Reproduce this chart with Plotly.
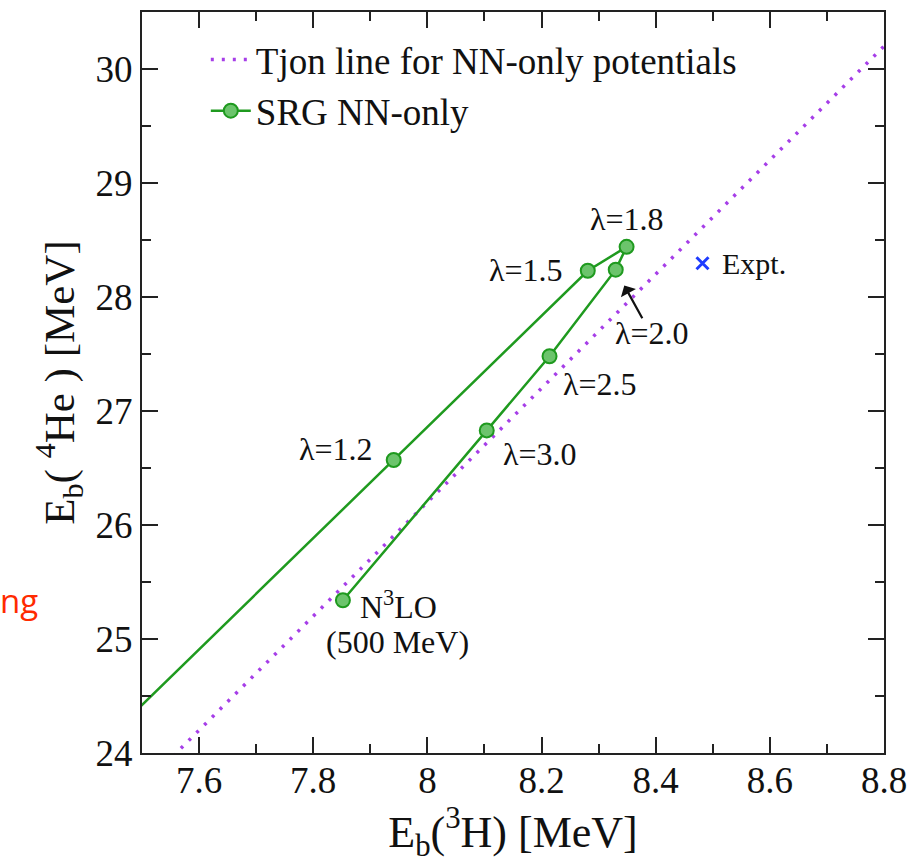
import plotly.graph_objects as go

# SRG-evolved NN-only binding energies (MeV), ordered along the evolution path
srg_labels = ["N<sup>3</sup>LO", "λ=3.0", "λ=2.5", "λ=2.0", "λ=1.8", "λ=1.5", "λ=1.2", "λ=1.0"]
srg_e3h = [7.852, 8.104, 8.214, 8.330, 8.349, 8.281, 7.941, 7.350]
srg_e4he = [25.34, 26.83, 27.48, 28.24, 28.44, 28.23, 26.57, 23.69]

# Tjon line for NN-only potentials
tjon_e3h = [7.50, 8.80]
tjon_e4he = [23.70, 30.20]

# Experimental values
expt_e3h = [8.482]
expt_e4he = [28.296]

serif = "Liberation Serif"
green = "#1f9a1f"
ink = "#111111"

fig = go.Figure()

fig.add_trace(go.Scatter(
    x=tjon_e3h, y=tjon_e4he, mode="lines",
    line=dict(color="#a63ee8", width=3.5, dash="3px,8px"),
    name="Tjon line for NN-only potentials",
))
fig.add_trace(go.Scatter(
    x=srg_e3h, y=srg_e4he, mode="lines+markers",
    line=dict(color=green, width=2.5),
    marker=dict(size=14, color="#6cc46c", line=dict(color=green, width=2)),
    name="SRG NN-only", cliponaxis=True,
))
fig.add_trace(go.Scatter(
    x=expt_e3h, y=expt_e4he, mode="markers",
    marker=dict(symbol="x-thin", size=12, line=dict(color="#1e3cff", width=3)),
    showlegend=False,
))

# point labels: (x, y, anchor)
label_pos = {
    "N<sup>3</sup>LO": (7.878, 25.30, "left"),
    "λ=3.0": (8.198, 26.62, "center"),
    "λ=2.5": (8.303, 27.24, "center"),
    "λ=2.0": (8.394, 27.68, "center"),
    "λ=1.8": (8.349, 28.68, "center"),
    "λ=1.5": (8.172, 28.24, "center"),
    "λ=1.2": (7.840, 26.67, "center"),
}
annotations = []
for lab, (lx, ly, anchor) in label_pos.items():
    annotations.append(dict(x=lx, y=ly, text=lab, showarrow=False, xanchor=anchor,
                            font=dict(family=serif, size=32, color=ink)))
annotations.append(dict(x=7.948, y=24.97, text="(500 MeV)", showarrow=False,
                        font=dict(family=serif, size=32, color=ink)))
annotations.append(dict(x=8.512, y=28.29, text="Expt.", showarrow=False, xanchor="left",
                        font=dict(family=serif, size=30, color=ink)))
# arrow pointing to λ=2.0
annotations.append(dict(x=8.345, y=28.10, ax=8.378, ay=27.80, axref="x", ayref="y",
                        text="", showarrow=True, arrowhead=1, arrowsize=1.3,
                        arrowwidth=2.2, arrowcolor=ink))
# red fragment at the left edge
annotations.append(dict(x=-0.1375, y=0.206, xref="paper", yref="paper", text="ng",
                        showarrow=False, xanchor="right", yanchor="middle",
                        font=dict(family="Open Sans", size=33, color="#ff2a00")))

tick_font = dict(family=serif, size=37, color=ink)
axis_common = dict(
    showline=True, linecolor="#222", linewidth=2, mirror="allticks",
    ticks="inside", ticklen=16, tickwidth=1.6, tickcolor="#222",
    showgrid=False, zeroline=False, tickfont=tick_font,
)

fig.update_layout(
    width=917, height=865,
    margin=dict(l=142, r=33, t=10, b=112),
    paper_bgcolor="white", plot_bgcolor="white",
    showlegend=True,
    legend=dict(x=0.086, y=0.977, xanchor="left", yanchor="top",
                bgcolor="rgba(0,0,0,0)", font=dict(family=serif, size=37, color=ink),
                itemwidth=40, tracegroupgap=0),
    xaxis=dict(range=[7.5, 8.8], tickvals=[7.6, 7.8, 8.0, 8.2, 8.4, 8.6, 8.8],
               ticktext=["7.6", "7.8", "8", "8.2", "8.4", "8.6", "8.8"],
               ticklabelstandoff=-6,
               minor=dict(dtick=0.1, tick0=7.5, ticks="inside", ticklen=9, tickcolor="#222"),
               title=dict(text="E<sub>b</sub>(<sup>3</sup>H) [MeV]",
                          font=dict(family=serif, size=44, color=ink), standoff=6),
               **axis_common),
    yaxis=dict(range=[24, 30.5], dtick=1,
               minor=dict(dtick=0.5, tick0=24, ticks="inside", ticklen=9, tickcolor="#222"),
               title=dict(text="E<sub>b</sub>( <sup>4</sup>He ) [MeV]",
                          font=dict(family=serif, size=43, color=ink), standoff=8),
               **axis_common),
    annotations=annotations,
)

fig.write_html("out.html")
